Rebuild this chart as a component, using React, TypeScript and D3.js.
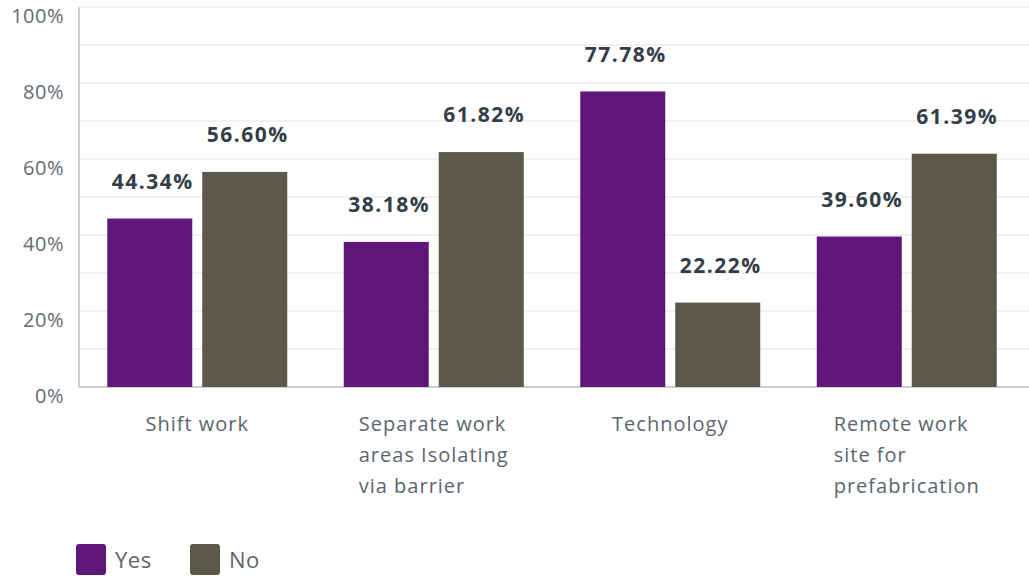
import * as d3 from 'd3';
import { useEffect, useRef } from 'react';

const categories = ['Shift work', 'Separate work areas Isolating via barrier', 'Technology', 'Remote work site for prefabrication'];
const categoryLines = [
    ['Shift work'],
    ['Separate work', 'areas Isolating', 'via barrier'],
    ['Technology'],
    ['Remote work', 'site for', 'prefabrication'],
];
const seriesNames = ['Yes', 'No'];
const yesValues = [44.34, 38.18, 77.78, 39.6];
const noValues = [56.6, 61.82, 22.22, 61.39];
const yTicks = [0, 20, 40, 60, 80, 100];
const gridTicks = [10, 20, 30, 40, 50, 60, 70, 80, 90, 100];
const colors = ['#5f1779', '#5b5a49'];

const FONT = '"Open Sans", "DejaVu Sans", sans-serif';

export default function App() {
    const svgRef = useRef<SVGSVGElement>(null);
    const width = 1029;
    const height = 576;
    const margin = { top: 7, left: 79, right: 4, bottom: 189 };

    useEffect(() => {
        const svg = d3.select(svgRef.current);
        svg.selectAll('*').remove();

        const plotW = width - margin.left - margin.right;
        const plotH = height - margin.top - margin.bottom;

        const x = d3.scaleBand().domain(categories).range([margin.left, margin.left + plotW]);
        const inner = d3.scaleBand().domain(seriesNames).range([0, 180]).paddingInner(0.105);
        const y = d3.scaleLinear().domain([0, 100]).range([margin.top + plotH, margin.top]);

        svg.append('rect').attr('width', width).attr('height', height).attr('fill', 'white');

        // gridlines
        svg.append('g')
            .selectAll('line')
            .data(gridTicks)
            .enter()
            .append('line')
            .attr('x1', margin.left)
            .attr('x2', width)
            .attr('y1', (d) => y(d))
            .attr('y2', (d) => y(d))
            .attr('stroke', '#ececec')
            .attr('stroke-width', 1.5);

        // y axis line + baseline
        svg.append('line')
            .attr('x1', margin.left).attr('x2', margin.left)
            .attr('y1', y(100)).attr('y2', y(0))
            .attr('stroke', '#d0d0d0').attr('stroke-width', 2);
        svg.append('line')
            .attr('x1', margin.left).attr('x2', width)
            .attr('y1', y(0)).attr('y2', y(0))
            .attr('stroke', '#d0d0d0').attr('stroke-width', 2);

        // y tick labels
        svg.append('g')
            .selectAll('text')
            .data(yTicks)
            .enter()
            .append('text')
            .attr('x', 64)
            .attr('y', (d) => y(d) + 9)
            .attr('dy', '0.35em')
            .attr('text-anchor', 'end')
            .style('font-family', FONT)
            .style('font-size', '20px')
            .style('letter-spacing', '0.5px')
            .attr('fill', '#636b75')
            .text((d) => `${d}%`);

        const series = [yesValues, noValues];

        series.forEach((vals, si) => {
            const g = svg.append('g');
            g.selectAll('rect')
                .data(vals)
                .enter()
                .append('rect')
                .attr('x', (_, i) => (x(categories[i]) || 0) + (x.bandwidth() - 180) / 2 + (inner(seriesNames[si]) || 0))
                .attr('y', (d) => y(d))
                .attr('width', inner.bandwidth())
                .attr('height', (d) => y(0) - y(d))
                .attr('fill', colors[si]);

            g.selectAll('text')
                .data(vals)
                .enter()
                .append('text')
                .attr('x', (_, i) => (x(categories[i]) || 0) + (x.bandwidth() - 180) / 2 + (inner(seriesNames[si]) || 0) + inner.bandwidth() / 2 + 3)
                .attr('y', (d) => y(d) - 37)
                .attr('dy', '0.35em')
                .attr('text-anchor', 'middle')
                .style('font-family', FONT)
                .style('font-size', '21px')
                .style('font-weight', '700')
                .style('letter-spacing', '1.5px')
                .attr('fill', '#333e48')
                .text((d) => `${d.toFixed(2)}%`);
        });

        // category labels: left-aligned lines, block centered on the group
        categories.forEach((cat, i) => {
            const cx = (x(cat) || 0) + x.bandwidth() / 2;
            const t = svg.append('text')
                .style('font-family', FONT)
                .style('font-size', '20px')
                .style('letter-spacing', '1px')
                .attr('fill', '#5a6570');
            categoryLines[i].forEach((line, li) => {
                t.append('tspan').attr('x', 0).attr('y', 424 + li * 31).attr('dy', '0.35em').text(line);
            });
            const w = (t.node() as SVGTextElement).getBBox().width;
            t.attr('transform', `translate(${cx - w / 2},0)`);
        });

        // legend
        const legendX = [76, 190];
        seriesNames.forEach((name, i) => {
            svg.append('rect')
                .attr('x', legendX[i]).attr('y', 544)
                .attr('width', 30).attr('height', 31)
                .attr('rx', 3)
                .attr('fill', colors[i]);
            svg.append('text')
                .attr('x', legendX[i] + 39).attr('y', 560)
                .attr('dy', '0.35em')
                .style('font-family', FONT)
                .style('font-size', '22px')
                .style('letter-spacing', '0.5px')
                .attr('fill', '#5a6570')
                .text(name);
        });
    }, []);

    return (
        <svg ref={svgRef} width={width} height={height}
            style={{ position: 'absolute', left: 0, top: 0, display: 'block' }}></svg>
    );
}
